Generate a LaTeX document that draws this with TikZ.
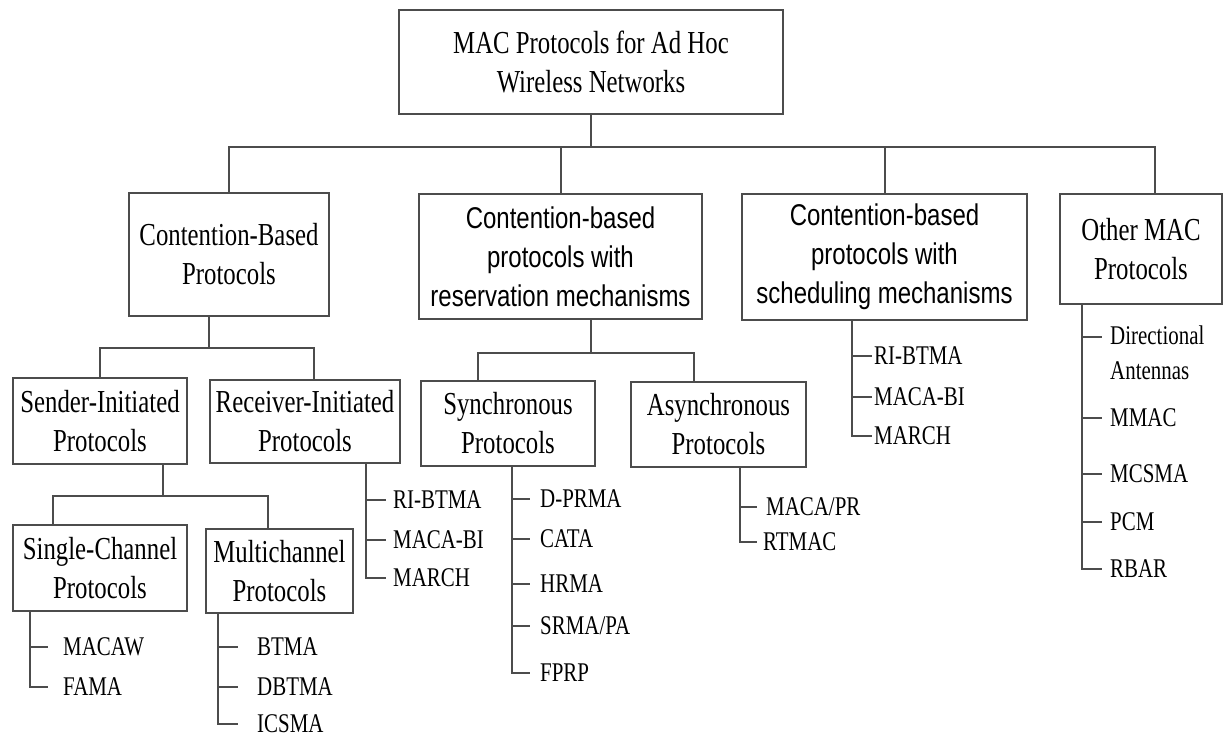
\documentclass[tikz,border=0pt]{standalone}
\usepackage{fontspec}
\setmainfont{Liberation Serif}[FakeStretch=0.775]
\setsansfont{Liberation Sans}[FakeStretch=0.8]
\usepackage{tikz}

\begin{document}
\begin{tikzpicture}[x=1pt,y=1pt]
\tikzstyle{box}=[draw=black!70, line width=2pt, inner sep=0pt, align=center, font=\fontsize{32}{39}\selectfont]
\tikzstyle{sbox}=[box, font=\sffamily\fontsize{30}{39}\selectfont]
\tikzstyle{leaf}=[anchor=west, inner ysep=0pt, text depth=0pt, font=\fontsize{27}{35}\selectfont]
\tikzstyle{link}=[draw=black!70, line width=2pt]
\useasboundingbox (0,0) rectangle (1225,-740);
% boxes
\node [box, minimum width=384, minimum height=104] (root) at (591,-62) {MAC Protocols for Ad Hoc\\Wireless Networks};
\node [box, minimum width=200, minimum height=123] (cb) at (229,-254.5) {Contention-Based\\Protocols};
\node [sbox, minimum width=283, minimum height=125] (res) at (560.5,-256.5) {Contention-based\\protocols with\\reservation mechanisms};
\node [sbox, minimum width=285, minimum height=126] (sched) at (884.5,-257) {Contention-based\\protocols with\\scheduling mechanisms};
\node [box, minimum width=162, minimum height=110] (other) at (1141,-249) {Other MAC\\Protocols};
\node [box, minimum width=174, minimum height=86] (sender) at (100,-421) {Sender-Initiated\\Protocols};
\node [box, minimum width=190, minimum height=83] (receiver) at (305,-421.5) {Receiver-Initiated\\Protocols};
\node [box, minimum width=174, minimum height=86] (single) at (100,-568) {Single-Channel\\Protocols};
\node [box, minimum width=147, minimum height=84] (multi) at (279.5,-571) {Multichannel\\Protocols};
\node [box, minimum width=174, minimum height=85] (sync) at (508,-423.5) {Synchronous\\Protocols};
\node [box, minimum width=175, minimum height=85] (async) at (718.5,-424.5) {Asynchronous\\Protocols};
% tree links
\draw [link] (root.south) -- ++(0,-32) coordinate (rootbar);
\draw [link] (cb.north) |- (rootbar);
\draw [link] (res.north) |- (rootbar);
\draw [link] (sched.north) |- (rootbar);
\draw [link] ([xshift=14pt]other.north) |- (rootbar);
\draw [link] ([xshift=-20pt]cb.south) -- ++(0,-31) coordinate (cbbar);
\draw [link] (sender.north) |- (cbbar);
\draw [link] ([xshift=9pt]receiver.north) |- (cbbar);
\draw [link] ([xshift=63pt]sender.south) -- ++(0,-31) coordinate (senderbar);
\draw [link] ([xshift=-47pt]single.north) |- (senderbar);
\draw [link] ([xshift=-12pt]multi.north) |- (senderbar);
\draw [link] ([xshift=30pt]res.south) -- ++(0,-33) coordinate (resbar);
\draw [link] ([xshift=-30pt]sync.north) |- (resbar);
\draw [link] ([xshift=-25pt]async.north) |- (resbar);
% single-channel list
\node [leaf, inner xsep=15pt] (macaw) at (48,-647) {MACAW};
\node [leaf, inner xsep=15pt] (fama) at (48,-687) {FAMA};
\draw [link] ([xshift=18pt]single.south west) |- (macaw.west);
\draw [link] ([xshift=18pt]single.south west) |- (fama.west);
% multichannel list
\node [leaf, inner xsep=19pt] (btma) at (238,-647) {BTMA};
\node [leaf, inner xsep=19pt] (dbtma) at (238,-687) {DBTMA};
\node [leaf, inner xsep=19pt] (icsma) at (238,-724) {ICSMA};
\draw [link] ([xshift=13pt]multi.south west) |- (btma.west);
\draw [link] ([xshift=13pt]multi.south west) |- (dbtma.west);
\draw [link] ([xshift=13pt]multi.south west) |- (icsma.west);
% receiver-initiated list
\node [leaf, inner xsep=7pt] (ribtma) at (386,-500) {RI-BTMA};
\node [leaf, inner xsep=7pt] (macabi) at (386,-540) {MACA-BI};
\node [leaf, inner xsep=7pt] (march) at (386,-578) {MARCH};
\draw [link] ([xshift=157pt]receiver.south west) |- (ribtma.west);
\draw [link] ([xshift=157pt]receiver.south west) |- (macabi.west);
\draw [link] ([xshift=157pt]receiver.south west) |- (march.west);
% synchronous list
\node [leaf, inner xsep=10pt] (dprma) at (530,-499) {D-PRMA};
\node [leaf, inner xsep=10pt] (cata) at (530,-539) {CATA};
\node [leaf, inner xsep=10pt] (hrma) at (530,-584) {HRMA};
\node [leaf, inner xsep=10pt] (srmapa) at (530,-626) {SRMA/PA};
\node [leaf, inner xsep=10pt] (fprp) at (530,-673) {FPRP};
\draw [link] ([xshift=92pt]sync.south west) |- (dprma.west);
\draw [link] ([xshift=92pt]sync.south west) |- (cata.west);
\draw [link] ([xshift=92pt]sync.south west) |- (hrma.west);
\draw [link] ([xshift=92pt]sync.south west) |- (srmapa.west);
\draw [link] ([xshift=92pt]sync.south west) |- (fprp.west);
% asynchronous list
\node [leaf, inner xsep=9pt] (macapr) at (757,-507) {MACA/PR};
\node [leaf, inner xsep=6pt] (rtmac) at (757,-542) {RTMAC};
\draw [link] ([xshift=110pt]async.south west) |- (macapr.west);
\draw [link] ([xshift=110pt]async.south west) |- (rtmac.west);
% scheduling list
\node [leaf, inner xsep=2pt] (ribtmas) at (872,-356) {RI-BTMA};
\node [leaf, inner xsep=2pt] (macabis) at (872,-397) {MACA-BI};
\node [leaf, inner xsep=2pt] (marchs) at (872,-436) {MARCH};
\draw [link] ([xshift=111pt]sched.south west) |- (ribtmas.west);
\draw [link] ([xshift=111pt]sched.south west) |- (macabis.west);
\draw [link] ([xshift=111pt]sched.south west) |- (marchs.west);
% other list
\node [leaf, inner xsep=8pt, align=left] (dirant) at (1102,-353) {Directional\\Antennas};
\node [leaf, inner xsep=8pt] (mmac) at (1102,-418) {MMAC};
\node [leaf, inner xsep=8pt] (mcsma) at (1102,-474) {MCSMA};
\node [leaf, inner xsep=8pt] (pcm) at (1102,-522) {PCM};
\node [leaf, inner xsep=8pt] (rbar) at (1102,-569) {RBAR};
\draw [link] ([xshift=23pt]other.south west) |- ([yshift=16pt]dirant.west);
\draw [link] ([xshift=23pt]other.south west) |- (mmac.west);
\draw [link] ([xshift=23pt]other.south west) |- (mcsma.west);
\draw [link] ([xshift=23pt]other.south west) |- (pcm.west);
\draw [link] ([xshift=23pt]other.south west) |- (rbar.west);
\end{tikzpicture}
\end{document}
